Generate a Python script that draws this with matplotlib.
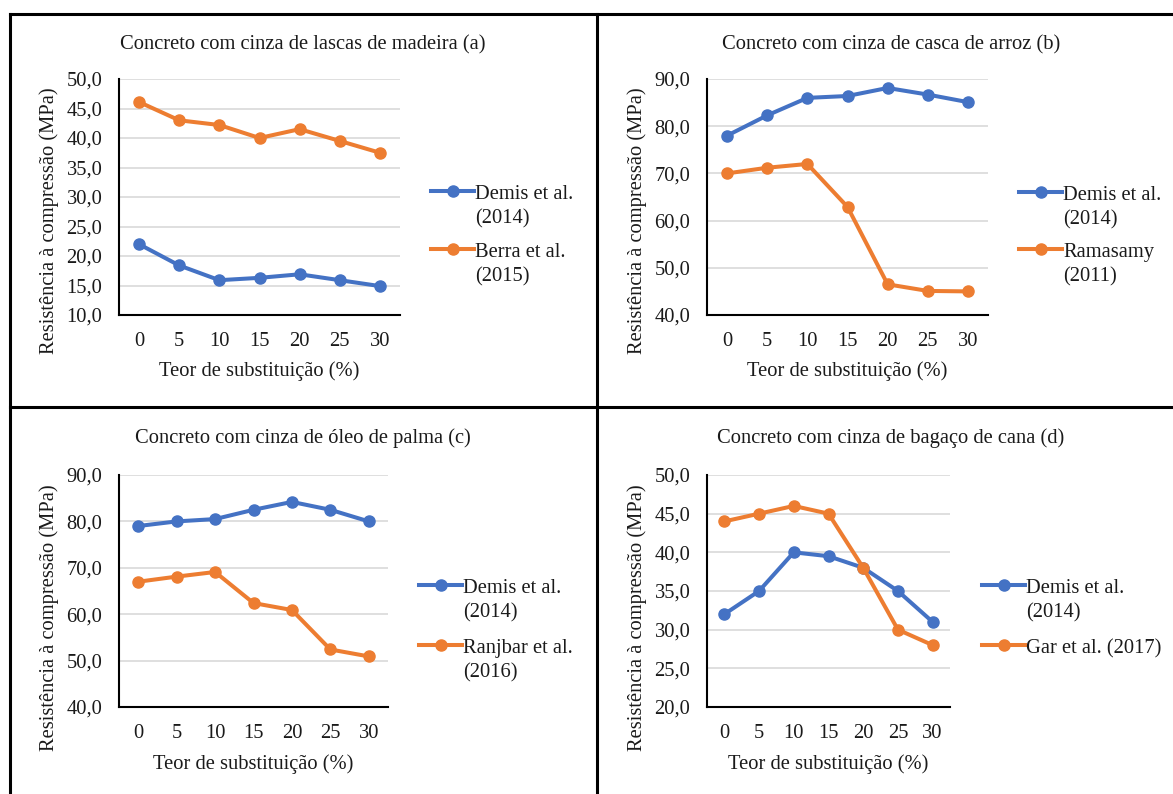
import matplotlib
matplotlib.use('Agg')
import matplotlib.pyplot as plt
from matplotlib.lines import Line2D
from matplotlib.ticker import FuncFormatter

W, H = 1173, 794
BLUE = '#4472C4'
ORANGE = '#ED7D31'
GRID = '#D9D9D9'
FS = 14.8

plt.rcParams['font.family'] = ['Liberation Serif', 'DejaVu Serif']
plt.rcParams['font.size'] = FS

# ---------------- data ----------------
categories = ['0', '5', '10', '15', '20', '25', '30']
x_label = 'Teor de substituição (%)'
y_label = 'Resistência à compressão (MPa)'

# (a) wood chip ash
title_a = 'Concreto com cinza de lascas de madeira (a)'
labels_a = ['Demis et al.\n(2014)', 'Berra et al.\n(2015)']
demis_a = [22.0, 18.4, 15.9, 16.3, 16.9, 15.9, 14.9]
berra_a = [46.1, 43.0, 42.2, 40.0, 41.5, 39.5, 37.5]
yticks_a = [10, 15, 20, 25, 30, 35, 40, 45, 50]

# (b) rice husk ash
title_b = 'Concreto com cinza de casca de arroz (b)'
labels_b = ['Demis et al.\n(2014)', 'Ramasamy\n(2011)']
demis_b = [78.0, 82.3, 86.0, 86.4, 88.1, 86.7, 85.1]
ramasamy_b = [70.0, 71.2, 72.0, 62.9, 46.5, 45.1, 45.0]
yticks_b = [40, 50, 60, 70, 80, 90]

# (c) palm oil fuel ash
title_c = 'Concreto com cinza de óleo de palma (c)'
labels_c = ['Demis et al.\n(2014)', 'Ranjbar et al.\n(2016)']
demis_c = [79.0, 80.0, 80.5, 82.5, 84.2, 82.5, 80.0]
ranjbar_c = [67.0, 68.1, 69.1, 62.4, 60.9, 52.4, 50.9]
yticks_c = [40, 50, 60, 70, 80, 90]

# (d) sugarcane bagasse ash
title_d = 'Concreto com cinza de bagaço de cana (d)'
labels_d = ['Demis et al.\n(2014)', 'Gar et al. (2017)']
demis_d = [32.0, 35.0, 40.0, 39.5, 38.0, 35.0, 31.0]
gar_d = [44.0, 45.0, 46.0, 45.0, 38.0, 30.0, 28.0]
yticks_d = [20, 25, 30, 35, 40, 45, 50]

# ---------------- layout (pixels) ----------------
panels = [
    dict(title=title_a, series=[demis_a, berra_a], labels=labels_a, yticks=yticks_a,
         box=(119, 79, 400, 315), title_xy=(303, 49), ylab_xy=(49, 221), xlab_y=376,
         leg_x=431, leg_y=[191, 249]),
    dict(title=title_b, series=[demis_b, ramasamy_b], labels=labels_b, yticks=yticks_b,
         box=(707, 79, 988, 315), title_xy=(891, 49), ylab_xy=(637, 221), xlab_y=376,
         leg_x=1019, leg_y=[192, 249]),
    dict(title=title_c, series=[demis_c, ranjbar_c], labels=labels_c, yticks=yticks_c,
         box=(119, 475, 388, 707), title_xy=(303, 443), ylab_xy=(49, 618), xlab_y=769,
         leg_x=419, leg_y=[585, 645]),
    dict(title=title_d, series=[demis_d, gar_d], labels=labels_d, yticks=yticks_d,
         box=(707, 475, 950, 707), title_xy=(891, 443), ylab_xy=(637, 618), xlab_y=769,
         leg_x=982, leg_y=[585, 645]),
]
colors = [BLUE, ORANGE]

fig = plt.figure(figsize=(W / 100, H / 100), dpi=100)


def fx(x):
    return x / W


def fy(y):
    return 1 - y / H


fmt = FuncFormatter(lambda v, p: f'{v:.1f}'.replace('.', ','))
LW = 2.9
MS = 8.0
TXT = '#1a1a1a'

for p in panels:
    x0, y0, x1, y1 = p['box']
    ax = fig.add_axes([fx(x0), fy(y1), fx(x1) - fx(x0), fy(y0) - fy(y1)])
    xs = list(range(len(categories)))
    for vals, c in zip(p['series'], colors):
        ax.plot(xs, vals, color=c, lw=LW, marker='o', ms=MS, mec=c, mfc=c,
                solid_capstyle='round', clip_on=False, zorder=3)
    ax.set_xlim(-0.5, len(categories) - 0.5)
    ax.set_ylim(p['yticks'][0], p['yticks'][-1])
    ax.set_xticks(xs)
    ax.set_xticklabels(categories)
    ax.set_yticks(p['yticks'])
    ax.yaxis.set_major_formatter(fmt)
    ax.grid(axis='y', color=GRID, lw=1.2)
    ax.set_axisbelow(True)
    for s in ['top', 'right']:
        ax.spines[s].set_visible(False)
    for s in ['left', 'bottom']:
        ax.spines[s].set_color('black')
        ax.spines[s].set_linewidth(1.5)
        ax.spines[s].set_zorder(2.5)
    ax.tick_params(axis='both', length=0, labelsize=FS, colors=TXT)
    ax.tick_params(axis='x', pad=12)
    ax.tick_params(axis='y', pad=12)

    # title and axis labels
    fig.text(fx(p['title_xy'][0]), fy(p['title_xy'][1]), p['title'],
             ha='center', va='baseline', fontsize=FS, color=TXT)
    fig.text(fx((x0 + x1) / 2), fy(p['xlab_y']), x_label,
             ha='center', va='baseline', fontsize=FS, color=TXT)
    fig.text(fx(p['ylab_xy'][0]), fy(p['ylab_xy'][1]), y_label, rotation=90,
             ha='center', va='center', fontsize=FS, color=TXT)

    # legend (Excel style: handle aligned with first text line)
    lx = p['leg_x']
    for lab, c, ly in zip(p['labels'], colors, p['leg_y']):
        fig.add_artist(Line2D([fx(lx), fx(lx + 43)], [fy(ly), fy(ly)], color=c, lw=LW))
        fig.add_artist(Line2D([fx(lx + 21.5)], [fy(ly)], color=c, marker='o', ms=MS,
                              mec=c, mfc=c, lw=0))
        for i, line in enumerate(lab.split('\n')):
            fig.text(fx(lx + 44), fy(ly + 8 + 24.5 * i), line, ha='left', va='baseline',
                     fontsize=FS, color=TXT)

# panel borders
BL = 2.2
fig.add_artist(Line2D([fx(10), fx(W)], [fy(14), fy(14)], color='black', lw=BL))
fig.add_artist(Line2D([fx(10), fx(W)], [fy(407), fy(407)], color='black', lw=BL))
fig.add_artist(Line2D([fx(10), fx(10)], [fy(14), 0], color='black', lw=BL))
fig.add_artist(Line2D([fx(597), fx(597)], [fy(14), 0], color='black', lw=BL))

fig.savefig('out.png', dpi=100, facecolor='white')
